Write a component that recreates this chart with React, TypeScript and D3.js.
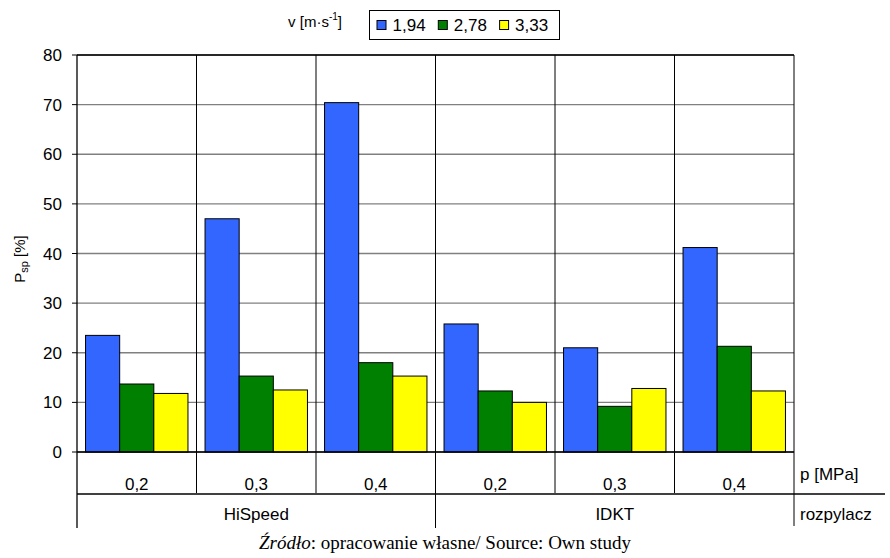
import * as d3 from 'd3';

const pressures = ['0,2', '0,3', '0,4', '0,2', '0,3', '0,4'];
const sprayers = ['HiSpeed', 'IDKT'];
const speeds = ['1,94', '2,78', '3,33'];
const v194 = [23.5, 47.0, 70.4, 25.8, 21.0, 41.2];
const v278 = [13.7, 15.3, 18.0, 12.3, 9.2, 21.3];
const v333 = [11.8, 12.5, 15.3, 10.0, 12.8, 12.3];
const yTicks = [0, 10, 20, 30, 40, 50, 60, 70, 80];
const colors = ['#3366ff', '#008000', '#ffff00'];

const W = 890;
const H = 558;
const left = 77;
const right = 794;
const top = 55;
const bottom = 452;
const font = 'Liberation Sans, Arial, sans-serif';
const fs = 17;

export default function App() {
  const series = [v194, v278, v333];
  const idx = pressures.map((_, i) => String(i));
  const x = d3.scaleBand().domain(idx).range([left, right]).paddingInner(0).paddingOuter(0);
  const inner = d3.scaleBand().domain(speeds).range([0, x.bandwidth()]).paddingInner(0).paddingOuter(0.25);
  const y = d3.scaleLinear().domain([0, 80]).range([bottom, top]);
  const groupX = d3.scaleBand().domain(sprayers).range([left, right]);

  return (
    <svg width={W} height={H} style={{ position: 'absolute', left: 0, top: 0, background: '#fff' }}>
      {/* horizontal grid */}
      {yTicks.map(t => (
        <line key={'g' + t} x1={left} x2={right} y1={y(t)} y2={y(t)} stroke="#808080" strokeWidth={1.3} />
      ))}
      {/* vertical category lines */}
      {idx.slice(1).map(i => (
        <line key={'v' + i} x1={x(i)!} x2={x(i)!} y1={top} y2={bottom} stroke="#000" strokeWidth={1} />
      ))}
      {/* bars */}
      {idx.map(i => (
        <g key={'b' + i}>
          {series.map((s, k) => (
            <rect
              key={k}
              x={x(i)! + inner(speeds[k])!}
              y={y(s[+i])}
              width={inner.bandwidth()}
              height={bottom - y(s[+i])}
              fill={colors[k]}
              stroke="#000"
              strokeWidth={1}
            />
          ))}
        </g>
      ))}
      {/* frame */}
      <line x1={left} x2={right} y1={top} y2={top} stroke="#000" strokeWidth={1.3} />
      <line x1={left} x2={right} y1={bottom} y2={bottom} stroke="#000" strokeWidth={1.3} />
      <line x1={left} x2={left} y1={top} y2={528} stroke="#000" strokeWidth={1.3} />
      <line x1={right} x2={right} y1={top} y2={526} stroke="#000" strokeWidth={1} />
      {/* y ticks */}
      {yTicks.map(t => (
        <g key={'t' + t}>
          <line x1={left - 5} x2={left} y1={y(t)} y2={y(t)} stroke="#000" />
          <text x={62} y={y(t) + 6} textAnchor="end" fontFamily={font} fontSize={fs}>
            {t}
          </text>
        </g>
      ))}
      <text transform={`translate(25,259) rotate(-90)`} textAnchor="middle" fontFamily={font} fontSize={15}>
        P<tspan fontSize={11} dy={3}>sp</tspan>
        <tspan dy={-3}> [%]</tspan>
      </text>
      {/* category table */}
      {idx.slice(1).map(i => (
        <line key={'s' + i} x1={x(i)!} x2={x(i)!} y1={bottom} y2={Number(i) === 3 ? 528 : 493} stroke="#000" strokeWidth={1} />
      ))}
      {idx.map(i => (
        <text key={'p' + i} x={x(i)! + x.bandwidth() / 2} y={490} textAnchor="middle" fontFamily={font} fontSize={fs}>
          {pressures[+i]}
        </text>
      ))}
      <line x1={left} x2={885} y1={494} y2={494} stroke="#000" strokeWidth={1.3} />
      {sprayers.map(s => (
        <text key={s} x={groupX(s)! + groupX.bandwidth() / 2} y={520} textAnchor="middle" fontFamily={font} fontSize={fs}>
          {s}
        </text>
      ))}
      <text x={800} y={480} fontFamily={font} fontSize={fs}>p [MPa]</text>
      <text x={800} y={520} fontFamily={font} fontSize={fs}>rozpylacz</text>
      {/* legend */}
      <text x={342} y={27} textAnchor="end" fontFamily={font} fontSize={15}>
        v [m·s<tspan fontSize={10} dy={-7}>-1</tspan>
        <tspan dy={7}>]</tspan>
      </text>
      <rect x={369.5} y={10.5} width={190} height={29} fill="#fff" stroke="#000" strokeWidth={1} />
      {speeds.map((sp, k) => (
        <g key={sp} transform={`translate(${376.5 + k * 61.3},0)`}>
          <rect x={0.5} y={20.5} width={9} height={9} fill={colors[k]} stroke="#000" />
          <text x={16} y={31} fontFamily={font} fontSize={fs}>{sp}</text>
        </g>
      ))}
      {/* caption */}
      <text x={445} y={549} textAnchor="middle" fontFamily="Liberation Serif, Times New Roman, serif" fontSize={19}>
        <tspan fontStyle="italic">Źródło</tspan>: opracowanie własne/ Source: Own study
      </text>
    </svg>
  );
}
